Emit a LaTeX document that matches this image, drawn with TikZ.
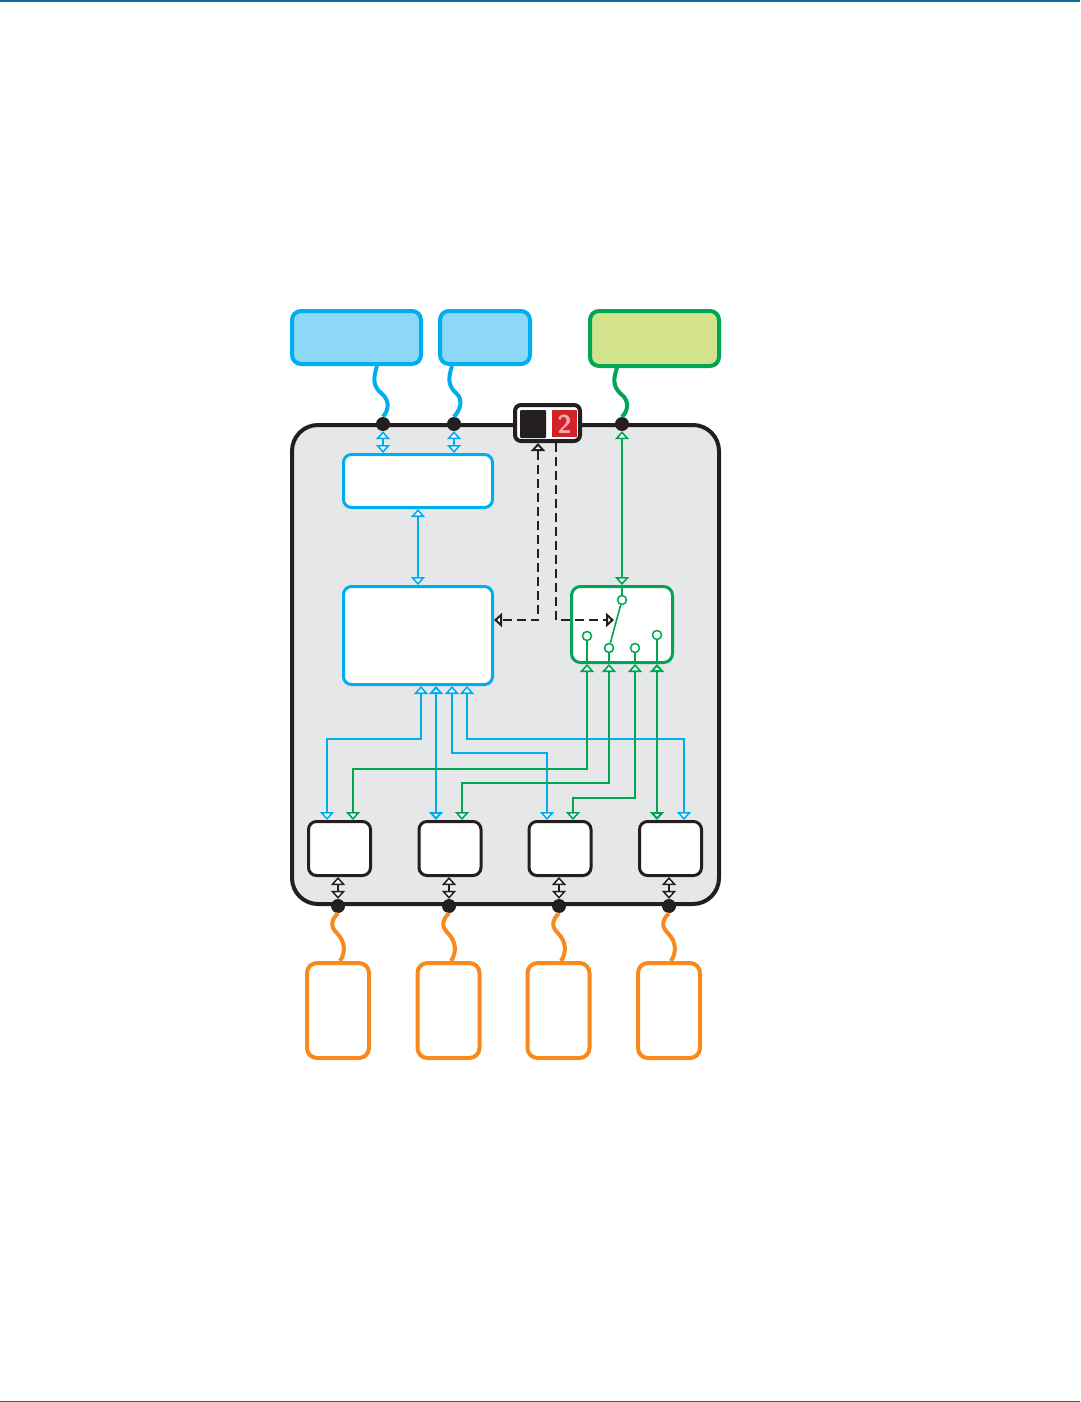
\documentclass[tikz,border=0pt]{standalone}
\usetikzlibrary{arrows.meta,calc}
\definecolor{cblue}{HTML}{00AEEF}
\definecolor{cbluel}{HTML}{8ED8F7}
\definecolor{cgreen}{HTML}{00A651}
\definecolor{cgreenl}{HTML}{D3E38B}
\definecolor{cgray}{HTML}{E6E7E8}
\definecolor{cblack}{HTML}{231F20}
\definecolor{corange}{HTML}{F7891F}
\definecolor{cred}{HTML}{D2232A}
\definecolor{cpink}{HTML}{F6A5A9}
\definecolor{cteal}{HTML}{0A6F96}
\begin{document}
\begin{tikzpicture}[x=1pt,y=-1pt,
  >={Triangle[length=8pt,width=14pt,fill=white]},
  mainbox/.style={draw=cblack,fill=cgray,line width=4pt,rounded corners=26pt,minimum width=427pt,minimum height=479pt,inner sep=0pt},
  tbox/.style={draw=cblue,fill=cbluel,line width=4pt,rounded corners=9pt,minimum height=53pt,inner sep=0pt},
  gbox/.style={draw=cgreen,fill=cgreenl,line width=4pt,rounded corners=9pt,minimum width=129pt,minimum height=55pt,inner sep=0pt},
  ibox/.style={draw=cblue,fill=white,line width=3pt,rounded corners=8pt,minimum width=149pt,inner sep=0pt},
  swbox/.style={draw=cgreen,fill=white,line width=3pt,rounded corners=9pt,minimum width=101pt,minimum height=76pt,inner sep=0pt},
  bkbox/.style={draw=cblack,fill=white,line width=3pt,rounded corners=8pt,minimum width=62pt,minimum height=54pt,inner sep=0pt},
  orbox/.style={draw=corange,fill=white,line width=4pt,rounded corners=10pt,minimum width=62pt,minimum height=95pt,inner sep=0pt},
  pdot/.style={circle,fill=cblack,minimum size=14pt,inner sep=0pt},
  scirc/.style={circle,draw=cgreen,fill=white,line width=1.5pt,minimum size=9pt,inner sep=0pt},
  wb/.style={draw=cblue,line width=4pt},
  wg/.style={draw=cgreen,line width=4pt},
  wo/.style={draw=corange,line width=4pt},
  bc/.style={draw=cblue,line width=1.6pt},
  gc/.style={draw=cgreen,line width=1.6pt},
  kc/.style={draw=cblack,line width=1.5pt},
  dc/.style={draw=cblack,line width=2pt,dash pattern=on 9pt off 5pt}
]
\useasboundingbox (0,0) rectangle (1080,1402);
\fill[cteal] (0,0) rectangle (1080,2.5);
\fill[cteal] (0,1400.5) rectangle (1080,1402);

% main enclosure
\node[mainbox] (main) at (505.5,664.5) {};

% top external boxes
\node[tbox,minimum width=129pt] (tb1) at (356.5,337.5) {};
\node[tbox,minimum width=90pt] (tb2) at (485,337.5) {};
\node[gbox] (tg) at (654.5,338.5) {};

% connection dots
\node[pdot] (d1) at (383,424) {};
\node[pdot] (d2) at (454,424) {};
\node[pdot] (d3) at (622,424) {};
\node[pdot] (d4) at (338,906) {};
\node[pdot] (d5) at (449,906) {};
\node[pdot] (d6) at (559,906) {};
\node[pdot] (d7) at (669,906) {};

% top wiggles
\draw[wb] ([xshift=-6pt]d1 |- tb1.south) .. controls (373,378) and (373,386) .. (381,393)
   .. controls (390,400) and (389,410) .. (d1.north);
\draw[wb] ([xshift=-2pt]d2 |- tb2.south) .. controls (448,378) and (448,386) .. (456,393)
   .. controls (464,400) and (460,410) .. (d2.north);
\draw[wg] ([xshift=-5pt]d3 |- tg.south) .. controls (613,379) and (613,387) .. (621,394)
   .. controls (630,401) and (628,411) .. (d3.north);

% display
\node[draw=cblack,fill=white,line width=4pt,rounded corners=6pt,minimum width=65pt,minimum height=36pt,inner sep=0pt] (disp) at (547.5,423) {};
\node[fill=cblack,minimum width=26pt,minimum height=28pt,inner sep=0pt,rounded corners=1pt] (dblk) at (533,424) {};
\node[fill=cred,minimum width=25pt,minimum height=27pt,inner sep=0pt] (dred) at (564,423) {};
\node[text=cpink,font=\fontsize{26}{26}\selectfont\sffamily\bfseries,inner sep=0pt] (dig) at (564.5,424) {2};

% inner boxes
\node[ibox,minimum height=53pt] (ib1) at (418,481) {};
\node[ibox,minimum height=98pt] (ib2) at (418,635.5) {};
\node[swbox] (sw) at (622,624.5) {};
\node[bkbox] (bk1) at (339.5,848.5) {};
\node[bkbox] (bk2) at (450,848.5) {};
\node[bkbox] (bk3) at (560,848.5) {};
\node[bkbox] (bk4) at (670.5,848.5) {};

% bottom external boxes
\node[orbox] (or1) at (338,1010.5) {};
\node[orbox] (or2) at (448.5,1010.5) {};
\node[orbox] (or3) at (558.5,1010.5) {};
\node[orbox] (or4) at (669,1010.5) {};

% bottom wiggles
\foreach \d/\o in {d4/or1,d5/or2,d6/or3,d7/or4}{
  \draw[wo] (\d.south) .. controls ($(\d.south)+(-7,7)$) and ($(\d.south)+(-8,13)$) .. ($(\d.south)+(-1,20)$)
     .. controls ($(\d.south)+(7,28)$) and ($(\d.south)+(8,39)$) .. ([xshift=2pt]\d |- \o.north);
}

% top double arrows
\draw[bc,<->] (d1) -- (d1 |- ib1.north);
\draw[bc,<->] (d2) -- (d2 |- ib1.north);
\draw[bc,<->] (ib1) -- (ib2);
\draw[gc,<->] (d3) -- (sw);

% switch internals
\node[scirc] (s0) at (622,600) {};
\node[scirc] (s1) at (587,636) {};
\node[scirc] (s2) at (609,648) {};
\node[scirc] (s3) at (635,648) {};
\node[scirc] (s4) at (657,635) {};
\draw[gc] (sw.north) -- (s0);
\draw[gc] (s0) -- (s2);
\draw[gc] (s1) -- (s1 |- sw.south);
\draw[gc] (s2) -- (s2 |- sw.south);
\draw[gc] (s3) -- (s3 |- sw.south);
\draw[gc,line width=2.4pt] (s4) -- (s4 |- sw.south);

% dashed control lines
\coordinate (swin) at (614,620);
\draw[dc,<->] ([xshift=-9.5pt]disp.south) |- ([yshift=15.5pt]ib2.east);
\draw[dc,line width=2.5pt,->] ([xshift=8.5pt]disp.south) |- (swin);

% blue distribution lines
\draw[bc,<->] ([xshift=3pt]ib2.south) -- ++(0,53) -| ([xshift=-12.5pt]bk1.north);
\draw[bc,<->,line width=2.4pt] ([xshift=18pt]ib2.south) -- ([xshift=18pt]ib2.south |- bk2.north);
\draw[bc,<->] ([xshift=34pt]ib2.south) -- ++(0,67) -| ([xshift=-13pt]bk3.north);
\draw[bc,<->] ([xshift=49pt]ib2.south) -- ++(0,53) -| ([xshift=13.5pt]bk4.north);

% green distribution lines
\draw[gc,<->] (s1 |- sw.south) -- ++(0,105) -| ([xshift=13.5pt]bk1.north);
\draw[gc,<->] (s2 |- sw.south) -- ++(0,119) -| ([xshift=12pt]bk2.north);
\draw[gc,<->] (s3 |- sw.south) -- ++(0,134) -| ([xshift=13pt]bk3.north);
\draw[gc,<->,line width=2.4pt] (s4 |- sw.south) -- (s4 |- bk4.north);

% bottom double arrows
\draw[kc,<->] (d4 |- bk1.south) -- (d4);
\draw[kc,<->] (d5 |- bk2.south) -- (d5);
\draw[kc,<->] (d6 |- bk3.south) -- (d6);
\draw[kc,<->] (d7 |- bk4.south) -- (d7);
\end{tikzpicture}
\end{document}
